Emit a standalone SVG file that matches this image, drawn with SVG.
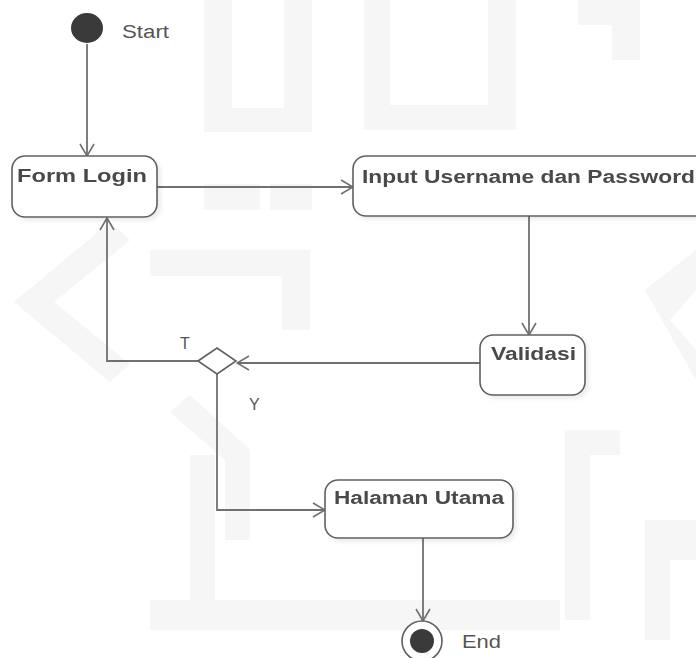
<svg xmlns="http://www.w3.org/2000/svg" width="696" height="658" viewBox="0 0 696 658">
  <style>
    .bg { fill: #f6f6f6; }
    .node { fill: #ffffff; stroke: #606060; stroke-width: 1.6; }
    .lbl { font-family: "Liberation Sans", Arial, sans-serif; font-size: 18px; font-weight: bold; fill: #4a4a4a; }
    .cap { font-family: "Liberation Sans", Arial, sans-serif; font-size: 18px; fill: #555555; }
    .guard { font-family: "Liberation Sans", Arial, sans-serif; font-size: 16px; fill: #555555; }
    .edge { fill: none; stroke: #707070; stroke-width: 1.8; marker-end: url(#open); }
  </style>
  <defs>
    <marker id="open" viewBox="0 0 14 16" refX="13" refY="8" markerWidth="14" markerHeight="16" markerUnits="userSpaceOnUse" orient="auto">
      <path d="M1,1 L13,8 L1,15" fill="none" stroke="#707070" stroke-width="1.6"/>
    </marker>
    <filter id="shadow" x="-10%" y="-10%" width="130%" height="140%">
      <feDropShadow dx="3" dy="3" stdDeviation="2" flood-color="#000" flood-opacity="0.08"/>
    </filter>
  </defs>

  <rect width="696" height="658" fill="#ffffff"/>

  <!-- faint background emblem -->
  <g id="emblem" class="bg">
    <path d="M204,0 H232 V108 H284 V0 H312 V132 H204 Z"/>
    <path d="M364,0 H390 V105 H488 V0 H516 V130 H364 Z"/>
    <path d="M578,0 H640 V60 H612 V25 H578 Z"/>
    <path d="M204,184 H260 V210 H204 Z"/>
    <path d="M270,184 H312 V210 H270 Z"/>
    <path d="M14,302 L110,222 L130,240 L54,302 L130,364 L110,382 Z"/>
    <path d="M150,250 H310 V330 H282 V276 H150 Z"/>
    <path d="M645,290 L696,250 V290 L670,320 L696,350 V380 Z"/>
    <path d="M190,395 L250,450 L250,540 L225,540 L225,460 L170,412 Z"/>
    <path d="M190,455 H215 V600 H190 Z"/>
    <path d="M565,430 H620 V455 H590 V620 H565 Z"/>
    <path d="M150,600 H560 V630 H150 Z"/>
    <path d="M645,520 H696 V560 H670 V640 H645 Z"/>
  </g>

  <!-- connectors -->
  <g id="connectors">
    <line class="edge" x1="87" y1="44" x2="87" y2="156"/>
    <line class="edge" x1="157" y1="187" x2="353" y2="187"/>
    <line class="edge" x1="529" y1="216" x2="529" y2="335"/>
    <line class="edge" x1="480" y1="363" x2="237" y2="363"/>
    <polyline class="edge" points="198,361 107,361 107,218"/>
    <polyline class="edge" points="217,374 217,510 325,510"/>
    <line class="edge" x1="423" y1="538" x2="423" y2="621"/>
  </g>

  <!-- initial node -->
  <g id="start">
    <ellipse cx="87" cy="28" rx="16" ry="15" fill="#3a3a3a"/>
    <text class="cap" x="122" y="38" textLength="47" lengthAdjust="spacingAndGlyphs">Start</text>
  </g>

  <g id="form-login" filter="url(#shadow)">
    <rect class="node" x="12" y="156" width="145" height="61" rx="13"/>
    <text class="lbl" x="17" y="182" textLength="130" lengthAdjust="spacingAndGlyphs">Form Login</text>
  </g>

  <g id="input-username" filter="url(#shadow)">
    <rect class="node" x="353" y="156" width="360" height="60" rx="13"/>
    <text class="lbl" x="362" y="183" textLength="333" lengthAdjust="spacingAndGlyphs">Input Username dan Password</text>
  </g>

  <g id="validasi" filter="url(#shadow)">
    <rect class="node" x="480" y="335" width="105" height="60" rx="13"/>
    <text class="lbl" x="491" y="360" textLength="85" lengthAdjust="spacingAndGlyphs">Validasi</text>
  </g>

  <g id="decision">
    <polygon points="198,361 217,348 236,361 217,374" fill="#ffffff" stroke="#606060" stroke-width="1.6"/>
    <text class="guard" x="180" y="349">T</text>
    <text class="guard" x="249" y="410">Y</text>
  </g>

  <g id="halaman-utama" filter="url(#shadow)">
    <rect class="node" x="325" y="480" width="188" height="58" rx="13"/>
    <text class="lbl" x="334" y="504" textLength="170" lengthAdjust="spacingAndGlyphs">Halaman Utama</text>
  </g>

  <!-- final node -->
  <g id="end">
    <circle cx="422" cy="641" r="20" fill="#ffffff" stroke="#606060" stroke-width="1.6"/>
    <circle cx="422" cy="641" r="12" fill="#3a3a3a"/>
    <text class="cap" x="462" y="648" textLength="39" lengthAdjust="spacingAndGlyphs">End</text>
  </g>
</svg>
